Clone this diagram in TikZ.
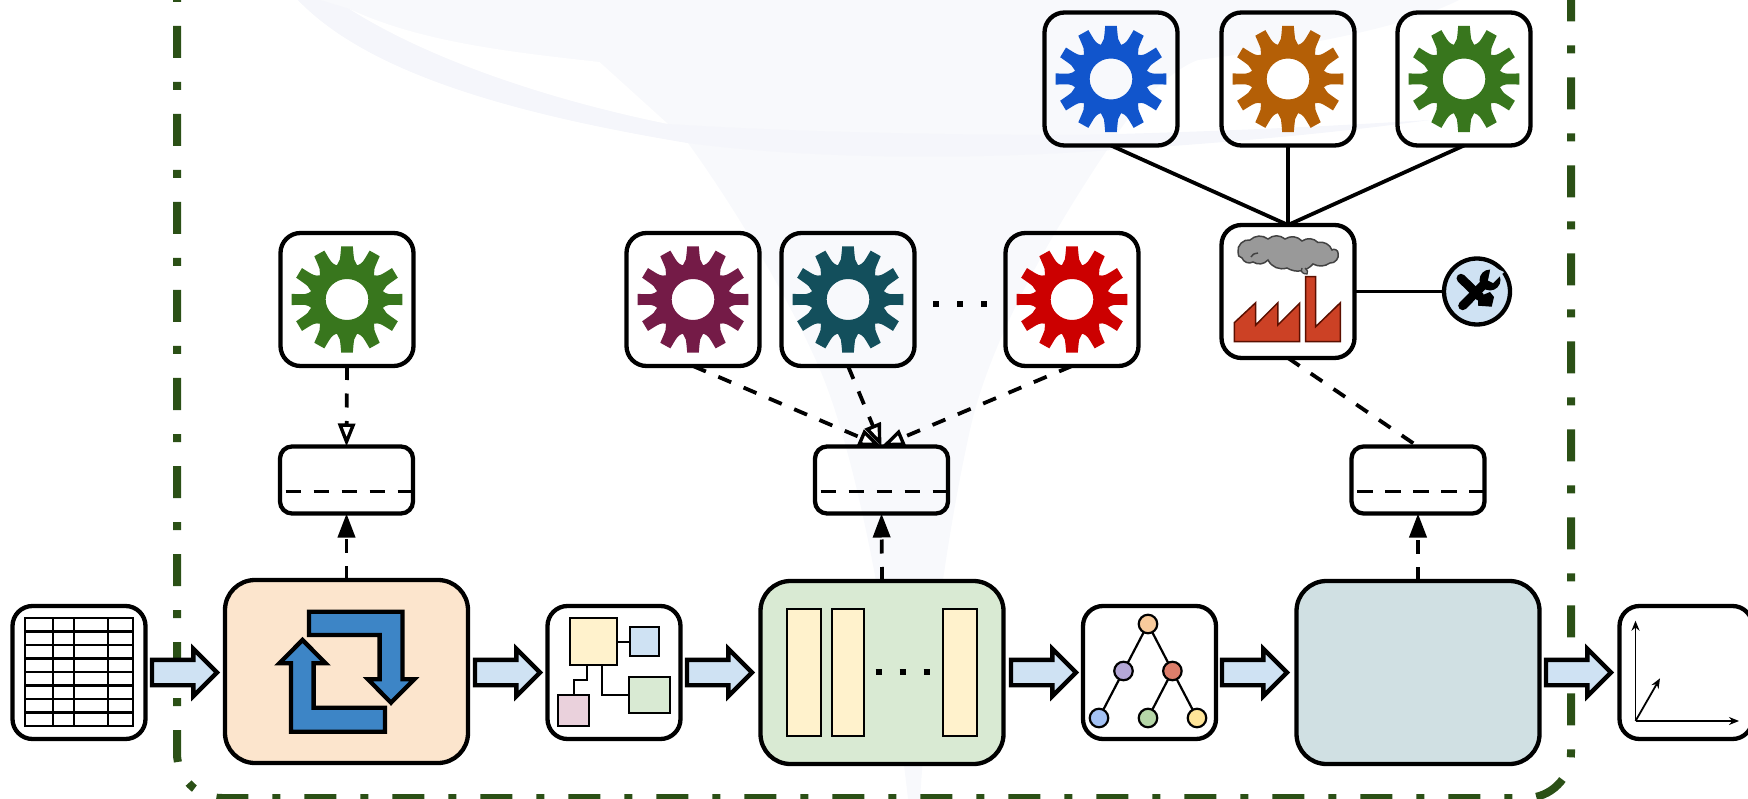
\documentclass[tikz,border=0pt]{standalone}
\usetikzlibrary{arrows.meta,shapes.arrows,calc}
\definecolor{frameg}{HTML}{2B5016}
\definecolor{wm}{HTML}{F8F9FC}
\definecolor{wmb}{HTML}{F5F6FB}
\definecolor{lblue}{HTML}{CFE2F3}
\definecolor{lgreen}{HTML}{D9EAD3}
\definecolor{lyellow}{HTML}{FFF2CC}
\definecolor{lpink}{HTML}{EAD1DC}
\definecolor{lorange}{HTML}{FCE5CD}
\definecolor{lgrey}{HTML}{D0E0E3}
\definecolor{gblue}{HTML}{1155CC}
\definecolor{gorange}{HTML}{B45F06}
\definecolor{ggreen}{HTML}{38761D}
\definecolor{gpurple}{HTML}{741B47}
\definecolor{gteal}{HTML}{134F5C}
\definecolor{gred}{HTML}{CC0000}
\definecolor{ficon}{HTML}{3D85C6}
\definecolor{fred}{HTML}{CC4125}
\definecolor{fdark}{HTML}{5B0F00}
\definecolor{tc0}{HTML}{F9CB9C}
\definecolor{tc1}{HTML}{B4A7D6}
\definecolor{tc2}{HTML}{DD7E6B}
\definecolor{tc3}{HTML}{A4C2F4}
\definecolor{tc4}{HTML}{B6D7A8}
\definecolor{tc5}{HTML}{FFE599}
\tikzset{
  iconbox/.style={draw,line width=4.3pt,rounded corners=20pt,minimum width=133pt,minimum height=133pt,inner sep=0pt,outer sep=0pt},
  bigbox/.style={draw,line width=4.3pt,rounded corners=30pt,minimum width=243pt,minimum height=183pt,inner sep=0pt,outer sep=0pt},
  smallbox/.style={draw,line width=4.3pt,rounded corners=12pt,minimum width=133pt,minimum height=67pt,inner sep=0pt,outer sep=0pt},
  blockarrow/.style={draw,fill=lblue,line width=4.3pt,single arrow,single arrow head extend=11pt,inner sep=10.5pt,minimum height=65pt,shape border rotate=0,anchor=tail,outer sep=0pt,miter limit=10},
  link/.style={line width=3.8pt},
  dashlink/.style={line width=3.8pt,dash pattern=on 14pt off 13.5pt},
  openhead/.style={-{Triangle[length=23pt,width=17pt,fill=white,line width=3.4pt]}},
  fullhead/.style={-{Triangle[length=24pt,width=17pt,fill=black]}},
  thinrect/.style={draw,line width=2.2pt,inner sep=0pt,outer sep=0pt},
  thin link/.style={line width=2.2pt},
  treenode/.style={draw,circle,line width=2.2pt,minimum size=18.5pt,inner sep=0pt,outer sep=0pt},
  pics/gearicon/.style={code={
    \fill[#1,even odd rule,xscale=1.04] (6:53.5)
      \foreach \a/\v in {0/13.5,30/43,60/74,90/106,120/137,150/166.5,180/193.5,210/223,240/254,270/286,300/317,330/346.5}{
        .. controls ({\v-6}:39) .. (\v:35.5)
        .. controls ({\v+6}:39) .. ({\a+24}:53.5)
        -- ({\a+36}:53.5)
      } -- cycle (0,0) circle (20.5);
  }}
}
\begin{document}
\begin{tikzpicture}[x=1pt,y=-1pt]
\useasboundingbox (0,0) rectangle (1748,799);
\clip (0,0) rectangle (1748,799);
% watermark
\fill[wm] (298,0) .. controls (370,75) and (520,115) .. (688,143)
  .. controls (745,222) and (800,320) .. (823,377)
  .. controls (860,470) and (890,640) .. (908,799) -- (920,799)
  .. controls (930,650) and (950,520) .. (970,430)
  .. controls (990,340) and (1050,235) .. (1109,147)
  .. controls (1130,110) and (1170,70) .. (1198,60)
  .. controls (1290,48) and (1400,30) .. (1459,0) -- cycle;
\fill[wmb] (298,0) .. controls (370,75) and (520,115) .. (688,143) .. controls (800,158) and (950,160) .. (1080,152)
  .. controls (1200,145) and (1320,135) .. (1430,120) .. controls (1300,128) and (1200,132) .. (1080,135)
  .. controls (900,135) and (760,130) .. (668,124) .. controls (550,100) and (430,60) .. (349.5,9) -- (320,0) -- cycle;
\fill[white] (349.5,9) .. controls (420,42) and (510,52) .. (599.5,62)
  -- (668,124) .. controls (550,100) and (430,60) .. (349.5,9) -- cycle;
% frame
\draw[frameg,line width=8pt,rounded corners=45pt,dash pattern=on 32pt off 24pt on 8pt off 24pt]
  (177,-62) -- (177,798) -- (1571,798) -- (1571,-62);

% main row
\node[iconbox] (table) at (79,672.5) {};
\node[bigbox,fill=lorange] (loop) at (346.5,671.5) {};
\node[iconbox] (plan) at (614,672.5) {};
\node[bigbox,fill=lgreen] (layers) at (882,672.5) {};
\node[iconbox] (tree) at (1149.5,672.5) {};
\node[bigbox,fill=lgrey] (slate) at (1418,672.5) {};
\node[iconbox] (axes) at (1686,672.5) {};
\node[blockarrow] (a1) at (152,672.5) {};
\node[blockarrow] (a2) at (475,672.5) {};
\node[blockarrow] (a3) at (687,672.5) {};
\node[blockarrow] (a4) at (1011,672.5) {};
\node[blockarrow] (a5) at (1222,672.5) {};
\node[blockarrow] (a6) at (1546,672.5) {};

% small boxes
\node[smallbox] (sl) at (346.5,480) {};
\node[smallbox] (sm) at (881.5,480) {};
\node[smallbox] (sr) at (1418,480) {};
\foreach \n in {sl,sm,sr}
  \draw[line width=3.8pt,dash pattern=on 15.5pt off 12.5pt] ([xshift=5.5pt,yshift=-11.5pt]\n.west) -- ([yshift=-11.5pt]\n.east);

% gear boxes
\node[iconbox] (gl) at (347,299.5) {};
\node[iconbox] (gp) at (693,299.5) {};
\node[iconbox] (gt) at (848,299.5) {};
\node[iconbox] (gr) at (1072,299.5) {};
\node[iconbox] (gb) at (1111,79) {};
\node[iconbox] (go) at (1288,79) {};
\node[iconbox] (gg) at (1464,79) {};
\node[iconbox] (factory) at (1288,291.5) {};
\node[draw,circle,fill=lblue,line width=4.3pt,minimum size=66pt,inner sep=0pt,outer sep=0pt] (tool) at (1477,291.5) {};
\pic at (gl) {gearicon=ggreen};
\pic at (gp) {gearicon=gpurple};
\pic at (gt) {gearicon=gteal};
\pic at (gr) {gearicon=gred};
\pic at (gb) {gearicon=gblue};
\pic at (go) {gearicon=gorange};
\pic at (gg) {gearicon=ggreen};

% connectors
\draw[link] (gb.south) -- (factory.north);
\draw[link] (go.south) -- (factory.north);
\draw[link] (gg.south) -- (factory.north);
\draw[link] (factory.east) -- (tool.west);
\draw[dashlink] (factory.south) -- (sr.north);
\draw[dashlink,openhead] (gl.south) -- (sl.north);
\draw[dashlink,openhead] (gp.south) -- (sm.north);
\draw[dashlink,openhead] (gt.south) -- (sm.north);
\draw[dashlink,openhead] (gr.south) -- (sm.north);
\draw[dashlink,fullhead] (loop.north) -- (sl.south);
\draw[dashlink,fullhead] (layers.north) -- (sm.south);
\draw[dashlink,fullhead] (slate.north) -- (sr.south);

% dots between gears and in the layers box
\draw[line width=6pt,dash pattern=on 6pt off 18pt] (933,304) -- (990,304);
\draw[line width=6pt,dash pattern=on 6pt off 18pt] (875.7,671.7) -- (932,671.7);

% table icon
\draw[line width=2.2pt] (25,618) rectangle (133,726);
\foreach \k in {1,...,7} \draw[line width=2.2pt] (25,{618+13.5*\k}) -- (133,{618+13.5*\k});
\foreach \x in {53,74,108} \draw[line width=2.2pt] (\x,618) -- (\x,726);

% loop icon
\draw[fill=ficon,line width=4.3pt,line join=miter] (309,611.7) -- (402.5,611.7) -- (402.5,679.3) -- (414.3,679.3) -- (391,702.7) -- (368,679.3) -- (379.6,679.3) -- (379.6,635) -- (309,635) -- cycle;
\draw[fill=ficon,line width=4.3pt,line join=miter] (302.5,640) -- (279.3,663.3) -- (291,663.3) -- (291,731.7) -- (385,731.7) -- (385,707.7) -- (313.6,707.7) -- (313.6,663.3) -- (325.7,663.3) -- cycle;

% plan icon
\node[thinrect,fill=lyellow,minimum width=47.3pt,minimum height=46.7pt] (py) at (593.7,641.7) {};
\node[thinrect,fill=lblue,minimum width=29pt,minimum height=28.7pt] (pb) at (644.5,641.7) {};
\node[thinrect,fill=lgreen,minimum width=41pt,minimum height=36pt] (pg) at (649.8,694.7) {};
\node[thinrect,fill=lpink,minimum width=31pt,minimum height=30.7pt] (pp) at (573.8,710.7) {};
\coordinate (pbend) at (587,680);
\draw[thin link] (py.east) -- (pb.west);
\draw[thin link] (py.south -| pbend) -- (pbend) -| (pp.north);
\draw[thin link] ([xshift=8.3pt]py.south) |- (pg.west);

% layer bars
\node[thinrect,fill=lyellow,minimum width=33.4pt,minimum height=126.7pt] (b1) at (804,672.3) {};
\node[thinrect,fill=lyellow,minimum width=32.6pt,minimum height=126.7pt] (b2) at (848,672.3) {};
\node[thinrect,fill=lyellow,minimum width=33.4pt,minimum height=126.7pt] (b3) at (960,672.3) {};

% tree icon
\node[treenode,fill=tc0] (t0) at (1148,624) {};
\node[treenode,fill=tc1] (t1) at (1123.5,671) {};
\node[treenode,fill=tc2] (t2) at (1172.4,671) {};
\node[treenode,fill=tc3] (t3) at (1099,718) {};
\node[treenode,fill=tc4] (t4) at (1148,718) {};
\node[treenode,fill=tc5] (t5) at (1197,718) {};
\draw[thin link] (t0) -- (t1);
\draw[thin link] (t0) -- (t2);
\draw[thin link] (t1) -- (t3);
\draw[thin link] (t2) -- (t4);
\draw[thin link] (t2) -- (t5);

% axes icon
\coordinate (org) at (1635.5,721);
\coordinate (ax1) at (1635.5,620.7);
\coordinate (ax2) at (1739,721);
\coordinate (ax3) at (1660,678.3);
\foreach \e in {ax1,ax2,ax3} \draw[line width=1.8pt,-{Stealth[length=10pt,width=8pt]}] (org) -- (\e);

% factory icon
\draw[fill=fred,draw=fdark,line width=1.5pt] (1234.3,322.7) -- (1255.7,302.7) -- (1255.7,325) -- (1277.9,302.7) -- (1277.9,325) -- (1299.6,303.3) -- (1299.6,341.7) -- (1234.3,341.7) -- cycle;
\draw[fill=fred,draw=fdark,line width=1.5pt] (1305.7,276.7) -- (1315.7,276.7) -- (1315.7,326.7) -- (1340.4,302.7) -- (1340.4,341.7) -- (1305.7,341.7) -- cycle;
\draw[fill=black!40,draw=black!74,line width=1.5pt]
  (1238,252) to[bend left=55] (1250,240) to[bend left=40] (1268,239) to[bend left=40] (1285,239)
  to[bend left=40] (1302,241) to[bend left=40] (1318,242.5) to[bend left=40] (1332,250) to[bend left=70] (1338,253)
  to[bend left=60] (1330,263) to[bend left=30] (1313,264) to[bend left=40] (1287,268) to[bend left=40] (1268,260)
  to[bend left=40] (1253,262) to[bend left=50] (1242,258) to[bend left=50] cycle;
\draw[black!74,line width=1.5pt] (1251,257) .. controls (1253,254) .. (1258,253);
\draw[fill=black!40,draw=black!74,line width=1.3pt] (1302,268) .. controls (1300,272) and (1303,274) .. (1307,274) .. controls (1309,272) and (1307,270) .. (1305,268);

% tool icon
\begin{scope}[line cap=round,line width=9pt]
\draw (1461,278.3) -- (1480,296.7);
\draw (1462.7,305.7) -- (1485,283.3);
\end{scope}
\fill (1478,297) -- (1490,292) -- (1494,297) -- (1491.7,306.7) -- (1478,305.7) -- cycle;
\fill (1490,280) circle (10.5);
\fill[lblue] (1488,280.5) -- (1491,266) -- (1504,272) -- (1493,283) -- cycle;
\end{tikzpicture}
\end{document}
